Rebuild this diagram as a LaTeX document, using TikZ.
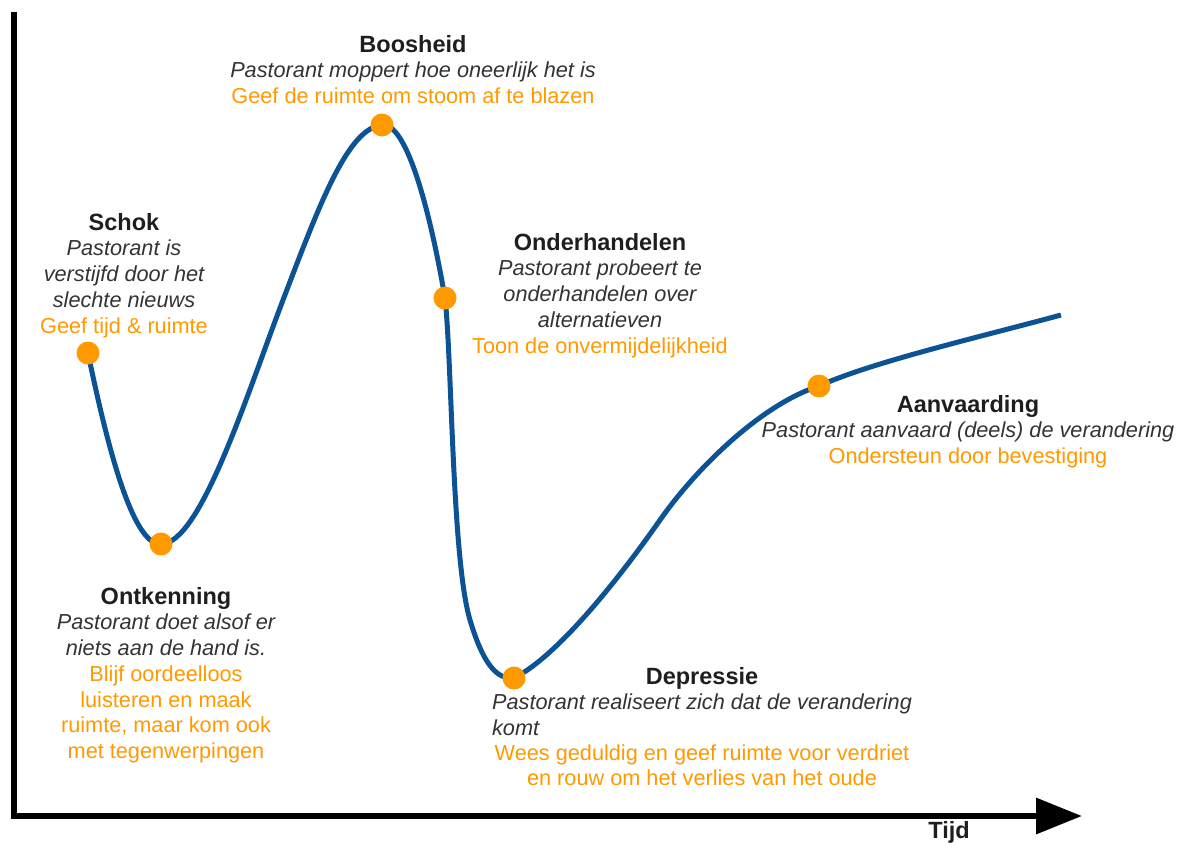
\documentclass[tikz,border=0pt]{standalone}
\usepackage{fontspec}
\setmainfont{Liberation Sans}
\usepackage{xcolor}
\definecolor{curveblue}{HTML}{0B5394}
\definecolor{tiporange}{HTML}{FF9900}
\definecolor{titleblack}{HTML}{1E1E1E}
\definecolor{descgray}{HTML}{333333}
\usetikzlibrary{arrows.meta,positioning}
\newcommand{\phasetitle}[1]{{\fontsize{23.5}{25.7}\selectfont\bfseries\color{titleblack}#1}}
\newcommand{\phasedesc}[1]{{\itshape\color{descgray}#1}}
\newcommand{\phasetip}[1]{{\color{tiporange}#1}}

\begin{document}
\begin{tikzpicture}[
      x=1pt,y=-1pt,
      axis/.style={line width=6.5pt,line join=miter,-{Triangle[length=46pt,width=35pt]}},
      curve/.style={line width=5pt,curveblue},
      dot/.style={circle,fill=tiporange,inner sep=0pt,minimum size=23pt},
      phase/.style={align=center,inner sep=0pt,anchor=north,
        font=\fontsize{21.7}{25.7}\selectfont},
      ]
      \useasboundingbox (0,0) rectangle (1182,844);

      \coordinate (ytop) at (14,12);
      \coordinate (origin) at (14,816);
      \coordinate (xend) at (1082,816);
      \draw [axis] (ytop) -- (origin) -- (xend);
      \node (tijd) at (949,838) [anchor=base,font=\fontsize{23.5}{25}\selectfont\bfseries,text=titleblack] {Tijd};

      \coordinate (cschok) at (88,353);
      \coordinate (contkenning) at (161,544);
      \coordinate (cboosheid) at (382,125);
      \coordinate (conderhandelen) at (445,298);
      \coordinate (cdepressie) at (514,678);
      \coordinate (caanvaarding) at (819,386);
      \coordinate (cend) at (1061,315);

      \draw [curve] (cschok)
        .. controls (106,440) and (132,546) .. (contkenning)
        .. controls (200,544) and (245,400) .. (283,300)
        .. controls (320,203) and (348,128) .. (cboosheid)
        .. controls (405,122) and (428,200) .. (conderhandelen)
        .. controls (452,360) and (452,560) .. (470,620)
        .. controls (482,660) and (495,680) .. (cdepressie)
        .. controls (560,655) and (625,570) .. (660,520)
        .. controls (695,470) and (760,405) .. (caanvaarding)
        .. controls (872,362) and (980,337) .. (cend);

      \foreach \p in {schok,ontkenning,boosheid,onderhandelen,depressie,aanvaarding}
        \node [dot] (d\p) at (c\p) {};

      \node (boosheid) at (413,35) [phase] {\phasetitle{Boosheid}\\
        \phasedesc{Pastorant moppert hoe oneerlijk het is}\\
        \phasetip{Geef de ruimte om stoom af te blazen}};
      \node (schok) at (124,213) [phase] {\phasetitle{Schok}\\
        \phasedesc{Pastorant is}\\ \phasedesc{verstijfd door het}\\ \phasedesc{slechte nieuws}\\
        \phasetip{Geef tijd \& ruimte}};
      \node (onderhandelen) at (600,233) [phase] {\phasetitle{Onderhandelen}\\
        \phasedesc{Pastorant probeert te}\\ \phasedesc{onderhandelen over}\\ \phasedesc{alternatieven}\\
        \phasetip{Toon de onvermijdelijkheid}};
      \node (aanvaarding) at (968,395) [phase] {\phasetitle{Aanvaarding}\\
        \phasedesc{Pastorant aanvaard (deels) de verandering}\\
        \phasetip{Ondersteun door bevestiging}};
      \node (ontkenning) at (166,587) [phase] {\phasetitle{Ontkenning}\\
        \phasedesc{Pastorant doet alsof er}\\ \phasedesc{niets aan de hand is.}\\
        \phasetip{Blijf oordeelloos}\\ \phasetip{luisteren en maak}\\
        \phasetip{ruimte, maar kom ook}\\ \phasetip{met tegenwerpingen}};
      \node (depressie) at (702,667) [phase] {\phasetitle{Depressie}\\
        \phasedesc{\begin{tabular}[t]{@{}l@{}}Pastorant realiseert zich dat de verandering\\ komt\end{tabular}}\\
        \phasetip{Wees geduldig en geef ruimte voor verdriet}\\
        \phasetip{en rouw om het verlies van het oude}};
  \end{tikzpicture}
\end{document}
